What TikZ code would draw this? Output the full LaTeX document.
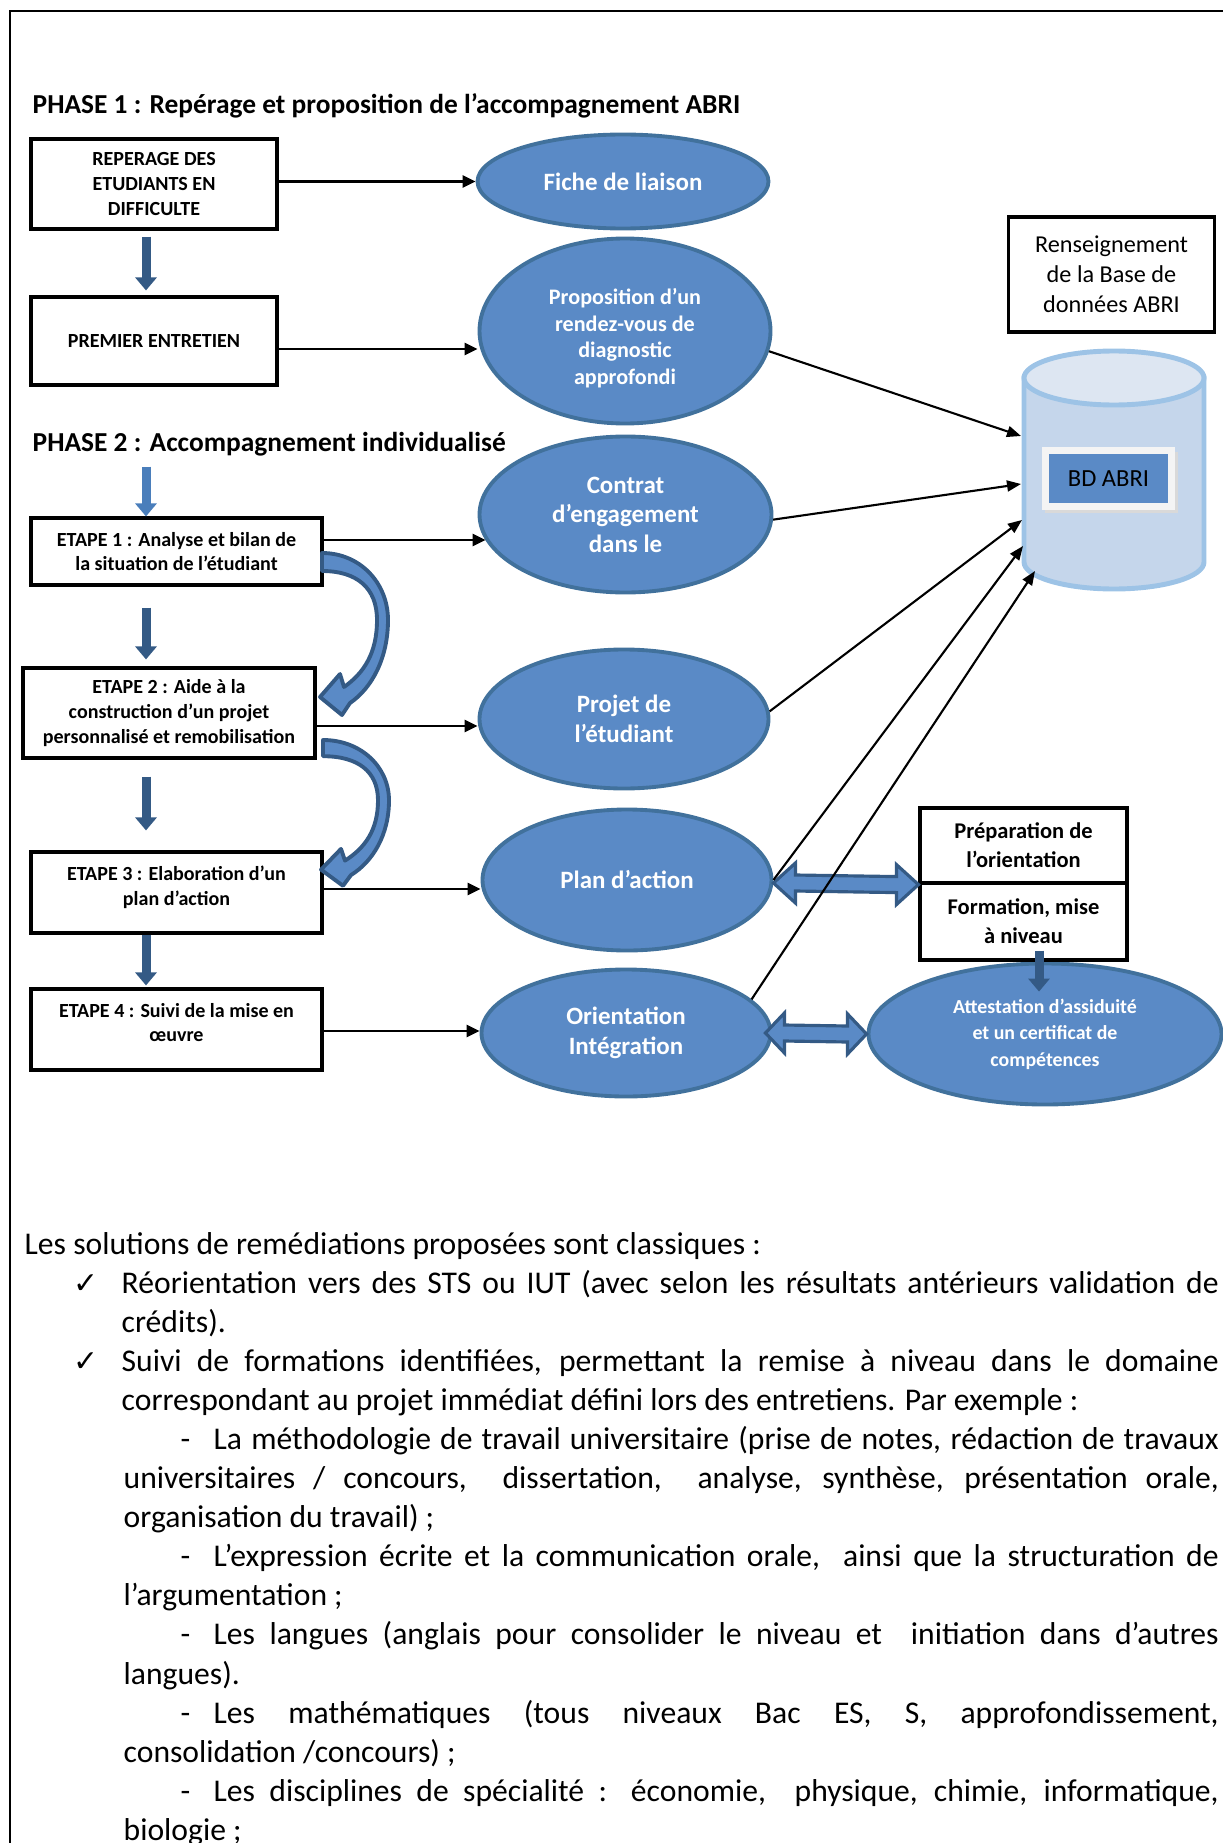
\documentclass[tikz,border=0pt]{standalone}
\usepackage{fontspec}
\setmainfont{Carlito}
\newfontfamily\symfont{DejaVu Sans}
\usetikzlibrary{positioning,arrows.meta,calc,shapes.geometric}
\definecolor{ellfill}{HTML}{5A8AC6}
\definecolor{ellline}{HTML}{41719C}
\definecolor{dkblu}{HTML}{345A85}
\definecolor{midblu}{HTML}{4A7EBB}
\definecolor{cylline}{HTML}{9DC3E6}
\definecolor{cylbody}{HTML}{C5D6EB}
\definecolor{cyltop}{HTML}{DDE6F2}
\definecolor{rimgray}{HTML}{F4F4F4}
\tikzset{
  stepbox/.style={draw,line width=0.9pt,inner sep=0pt,align=center,font=\bfseries\fontsize{5.7}{7}\selectfont},
  bubble/.style={ellipse,draw=ellline,fill=ellfill,line width=1.1pt,inner sep=0pt,text=white,align=center,font=\bfseries\fontsize{7.1}{8.4}\selectfont},
  phase/.style={anchor=west,inner sep=0pt,font=\bfseries\fontsize{7.8}{9}\selectfont},
  downarr/.style={dkblu,line width=0.9mm,-{Triangle[width=2.1mm,length=1.3mm]}},
  link/.style={line width=0.8pt,->},
  dblink/.style={line width=0.6pt,-{Triangle[length=1.4mm,width=1.1mm]}},
  bluearrow/.style={fill=ellfill,draw=dkblu,line width=1.1pt,line join=round},
  txt/.style={anchor=base west,inner sep=0pt,font=\fontsize{9}{11}\selectfont},
  tick/.style={txt,font=\symfont\fontsize{8.5}{11}\selectfont}
}
% curved blue arrow from one step to the next
\newcommand\bendarrow[2]{%
  \begin{scope}[shift={#1},yscale=#2]
    \filldraw[bluearrow]
      (0,0) .. controls (38,0) and (66,30) .. (66,67)
      .. controls (66,105) and (50,135) .. (28,150)
      -- (20,162) -- (-2,144) -- (18,121) -- (22,134)
      .. controls (42,120) and (55,100) .. (55,67)
      .. controls (55,35) and (35,18) .. (0,18) -- cycle;
  \end{scope}}
% wide double arrow between two tips (left, right)
\newcommand\dblarrow[3]{%
  \filldraw[bluearrow,line width=0.9pt,line join=miter]
    (#1) -- ($(#1)+(#3,-20)$) -- ($(#1)+(#3,-8)$) -- ($(#2)+(-#3,-8)$) -- ($(#2)+(-#3,-20)$) -- (#2)
    -- ($(#2)+(-#3,20)$) -- ($(#2)+(-#3,8)$) -- ($(#1)+(#3,8)$) -- ($(#1)+(#3,20)$) -- cycle;}
\newcommand\jline[2]{\makebox[#1][s]{#2}}

\begin{document}
\begin{tikzpicture}[x=0.1mm,y=-0.1mm,>={Triangle[length=1.3mm,width=1.2mm]}]
  \useasboundingbox (0,0) rectangle (1223,1843);
  \draw[line width=0.8pt] (10,1843) -- (10,11) -- (1223,11);

  % phase 1
  \node[phase] (ph1) at (32,106) {PHASE 1 : Repérage et proposition de l’accompagnement ABRI};
  \node[stepbox,minimum width=24.6mm,minimum height=9mm] (rep) at (154,184) {REPERAGE DES\\ETUDIANTS EN\\DIFFICULTE};
  \node[stepbox,minimum width=24.6mm,minimum height=8.8mm] (prem) at (154,341) {PREMIER ENTRETIEN};
  \node[bubble,minimum width=29.1mm,minimum height=9.4mm] (fiche) at (623,181.5) {Fiche de liaison};
  \node[bubble,minimum width=29.1mm,minimum height=18.5mm,font=\bfseries\fontsize{6.3}{7.65}\selectfont] (prop) at (625,331) {\mbox{}\\[1pt]Proposition d’un\\rendez-vous de\\diagnostic\\approfondi};

  % phase 2
  \node[phase] (ph2) at (32,444) {PHASE 2 : Accompagnement individualisé};
  \node[stepbox,minimum width=29.1mm,minimum height=6.7mm] (e1) at (176.5,551.5) {ETAPE 1 : Analyse et bilan de\\la situation de l’étudiant};
  \node[stepbox,minimum width=29.2mm,minimum height=9mm] (e2) at (169,713) {ETAPE 2 : Aide à la\\construction d’un projet\\personnalisé et remobilisation};
  \node[stepbox,minimum width=29.1mm,minimum height=8.1mm] (e3) at (176.5,892.5) {ETAPE 3 : Elaboration d’un\\plan d’action\\[-3pt]\mbox{}};
  \node[stepbox,minimum width=29.1mm,minimum height=8.1mm] (e4) at (176.5,1029.5) {ETAPE 4 : Suivi de la mise en\\œuvre\\[-3pt]\mbox{}};

  \node[bubble,minimum width=29.2mm,minimum height=15.6mm] (contrat) at (625.5,514.5) {Contrat\\d’engagement\\dans le};
  \node[bubble,minimum width=28.9mm,minimum height=13.9mm] (projet) at (624,719) {Projet de\\l’étudiant};
  \node[bubble,minimum width=28.9mm,minimum height=14.1mm] (plan) at (627,880) {Plan d’action};
  \node[bubble,minimum width=28.9mm,minimum height=12.7mm] (orient) at (626,1033) {Orientation\\Intégration};
  \node[bubble,minimum width=35.3mm,minimum height=14.1mm,font=\bfseries\fontsize{5.65}{7.5}\selectfont] (att) at (1045,1034) {Attestation d’assiduité\\et un certificat de\\compétences};

  \node[stepbox,minimum width=20.7mm,minimum height=7.5mm,font=\bfseries\fontsize{6.4}{8.3}\selectfont] (prep) at (1023.5,845.5) {Préparation de\\l’orientation};
  \node[stepbox,minimum width=20.7mm,minimum height=7.7mm,font=\bfseries\fontsize{6.4}{8.3}\selectfont] (form) at (1023.5,921.5) {Formation, mise\\à niveau};

  % base de donnees
  \node[draw,line width=0.9pt,minimum width=20.6mm,minimum height=11.5mm,align=center,inner sep=0pt,font=\fontsize{6.9}{8.5}\selectfont] (rens) at (1111.5,274.5) {Renseignement\\de la Base de\\données ABRI};
  \filldraw[fill=cylbody,draw=cylline,line width=1.4pt] (1024,378) -- (1024,562) arc[start angle=180,end angle=0,x radius=90,y radius=27] -- (1204,378) -- cycle;
  \filldraw[fill=cyltop,draw=cylline,line width=1.4pt] (1114,378) ellipse[x radius=90,y radius=27];
  \fill[black!15] (1045,452) rectangle (1178,513);
  \node[fill=rimgray,minimum width=13.3mm,minimum height=6.3mm,inner sep=0pt] (rim) at (1108.5,478.5) {};
  \node[fill=ellfill,minimum width=11.9mm,minimum height=4.9mm,inner sep=0pt,font=\fontsize{7}{8}\selectfont] (bd) at (1108.5,478.5) {BD ABRI};
  \coordinate (db1) at (1021,436);
  \coordinate (db2) at (1021,484);
  \coordinate (db3) at (1022,520);
  \coordinate (db4) at (1023,546);
  \coordinate (db5) at (1035,571);

  % fleches
  \coordinate (ax) at (146,0);
  \draw[downarr,shorten <=0.6mm,shorten >=0.5mm] (rep.south -| ax) -- (prem.north -| ax);
  \draw[downarr,midblu,shorten <=1mm] (ph2.south -| ax) -- (e1.north -| ax);
  \draw[downarr,shorten <=2.1mm,shorten >=0.7mm] (e1.south -| ax) -- (e2.north -| ax);
  \draw[downarr,shorten <=1.7mm,shorten >=2mm] (e2.south -| ax) -- (e3.north -| ax);
  \draw[downarr,shorten >=0.2mm] (e3.south -| ax) -- (e4.north -| ax);
  \coordinate (fx) at (1039,0);
  \draw[downarr] ($(form.south -| fx)+(0,-11)$) -- ($(att.north -| fx)+(0,30)$);

  \draw[link] (rep.east |- fiche.west) -- (fiche.west);
  \draw[link] (prem.east |- 0,349) -- (prop.west |- 0,349);
  \draw[link,shorten >=-0.8mm] (e1.east |- 0,540) -- (contrat.west |- 0,540);
  \draw[link] (e2.east |- 0,726) -- (projet.west |- 0,726);
  \draw[link] (e3.east |- 0,889) -- (plan.west |- 0,889);
  \draw[link] (e4.east |- 0,1031) -- (orient.west |- 0,1031);

  \bendarrow{(322,553)}{1}
  \bendarrow{(323,740)}{0.9}

  \coordinate (pa1) at (plan.east |- 0,883);
  \coordinate (pa2) at (prep.south west);
  \coordinate (oa1) at ($(orient.east)+(-7,0)$);
  \coordinate (oa2) at (att.west);
  \dblarrow{pa1}{pa2}{22}
  \dblarrow{oa1}{oa2}{19}

  \draw[dblink] (prop.-8) -- (db1);
  \draw[dblink] (contrat.-2) -- (db2);
  \draw[dblink] (projet.3) -- (db3);
  \draw[dblink] (plan.east) -- (db4);
  \draw[dblink] (orient.15) -- (db5);

  % texte
  \node[txt] (l1) at (24,1254) {Les solutions de remédiations proposées sont classiques :};
  \node[tick] (ck1) at (73,1293) {✓};
  \node[txt] (l2) at (121,1293) {\jline{109.7mm}{Réorientation vers des STS ou IUT (avec selon les résultats antérieurs validation de}};
  \node[txt] (l3) at (121,1332) {crédits).};
  \node[tick] (ck2) at (73,1371) {✓};
  \node[txt] (l4) at (121,1371) {\jline{109.7mm}{Suivi de formations identifiées, permettant la remise à niveau dans le domaine}};
  \node[txt] (l5) at (121,1410) {correspondant au projet immédiat défini lors des entretiens. Par exemple :};
  \node[txt] (d1) at (180,1449) {-};
  \node[txt] (l6) at (213,1449) {\jline{100.5mm}{La méthodologie de travail universitaire (prise de notes, rédaction de travaux}};
  \node[txt] (l7) at (123,1488) {\jline{109.5mm}{universitaires / concours,\ \ dissertation,\ \ analyse, synthèse, présentation orale,}};
  \node[txt] (l8) at (123,1527) {organisation du travail) ;};
  \node[txt] (d2) at (180,1566) {-};
  \node[txt] (l9) at (213,1566) {\jline{100.5mm}{L’expression écrite et la communication orale,\ \ ainsi que la structuration de}};
  \node[txt] (l10) at (123,1605) {l’argumentation ;};
  \node[txt] (d3) at (180,1644) {-};
  \node[txt] (l11) at (213,1644) {\jline{100.5mm}{Les langues (anglais pour consolider le niveau et\ \ initiation dans d’autres}};
  \node[txt] (l12) at (123,1684) {langues).};
  \node[txt] (d4) at (180,1723) {-};
  \node[txt] (l13) at (213,1723) {\jline{100.5mm}{Les mathématiques (tous niveaux Bac ES, S, approfondissement,}};
  \node[txt] (l14) at (123,1762) {consolidation /concours) ;};
  \node[txt] (d5) at (180,1801) {-};
  \node[txt] (l15) at (213,1801) {\jline{100.5mm}{Les disciplines de spécialité : économie,\ \ physique, chimie, informatique,}};
  \node[txt] (l16) at (123,1840) {biologie ;};
\end{tikzpicture}
\end{document}
